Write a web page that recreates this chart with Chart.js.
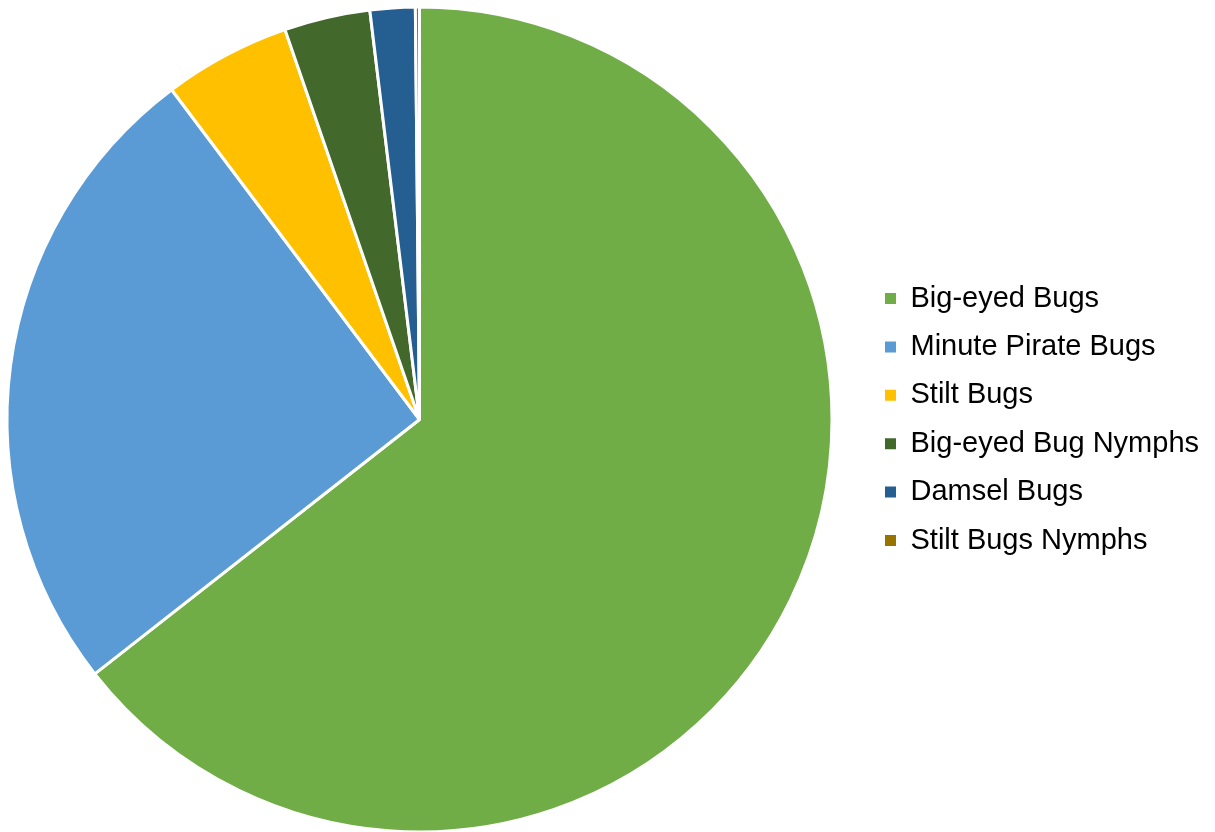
<!DOCTYPE html>
<html>
<head>
<meta charset="utf-8">
<title>Predatory bugs</title>
<script src="https://cdn.jsdelivr.net/npm/chart.js@4.4.1/dist/chart.umd.min.js"></script>
<style>
  html, body { margin: 0; padding: 0; background: #fff; overflow: hidden; }
  /* canvas is a bit wider than the page and pulled left, so the pie sits near the left edge */
  canvas { display: block; margin-left: -27px; }
</style>
</head>
<body>
<canvas id="myChart" width="1242" height="832"></canvas>
<script>
"use strict";

// bug counts
const bugNames = [
  "Big-eyed Bugs",
  "Minute Pirate Bugs",
  "Stilt Bugs",
  "Big-eyed Bug Nymphs",
  "Damsel Bugs",
  "Stilt Bugs Nymphs"
];
const bugCounts = [402, 158, 31, 21, 11, 1];
const sliceColors = ["#70AD47", "#5B9BD5", "#FFC000", "#43682B", "#255E91", "#997300"];

const canvas = document.getElementById("myChart");

// legend settings
const fontFamily = "'Liberation Sans', Arial, sans-serif";
const fontSize = 29;
const boxSize = 11;
const rowGap = 19.4;

// legend width as chart.js computes it, so the right padding can be set
const ctx = canvas.getContext("2d");
ctx.font = fontSize + "px " + fontFamily;
let longest = 0;
bugNames.forEach(name => {
  longest = Math.max(longest, ctx.measureText(name).width);
});
const legendWidth = rowGap + boxSize + fontSize / 2 + longest + 10;

const pieRight = 892.6; // chart area right edge
const rightPad = canvas.width - pieRight - legendWidth;

const data = {
  labels: bugNames,
  datasets: [{
    data: bugCounts,
    backgroundColor: sliceColors,
    borderColor: "#ffffff",
    borderWidth: 3
  }]
};

const config = {
  type: "pie",
  data: data,
  options: {
    responsive: false,
    animation: false,
    radius: 412.5,
    layout: {
      padding: { left: 0.4, right: rightPad, top: 7, bottom: 0 }
    },
    plugins: {
      tooltip: { enabled: false },
      legend: {
        position: "right",
        labels: {
          boxWidth: boxSize,
          boxHeight: boxSize,
          padding: rowGap,
          color: "#000",
          font: { family: fontFamily, size: fontSize },
          // plain squares, no white outline
          generateLabels: function (chart) {
            const items = Chart.overrides.pie.plugins.legend.labels.generateLabels(chart);
            return items.map(item => Object.assign(item, { lineWidth: 0 }));
          }
        }
      }
    }
  }
};

const myChart = new Chart(canvas, config);
</script>
</body>
</html>
